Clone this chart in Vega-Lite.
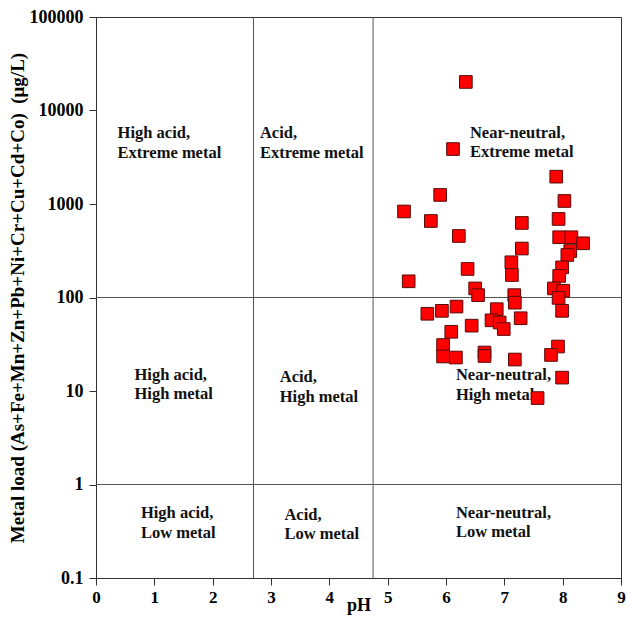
{
  "$schema": "https://vega.github.io/schema/vega-lite/v6.json",
  "width": 525,
  "height": 561,
  "autosize": {"type": "none"},
  "padding": {"left": 96, "top": 17, "right": 6, "bottom": 41},
  "background": "white",
  "config": {
    "font": "Liberation Serif",
    "view": {"stroke": "#333", "strokeWidth": 1},
    "axis": {"grid": false, "labelFlush": false, "domainColor": "#333", "tickColor": "#333", "labelFont": "Liberation Serif", "titleFont": "Liberation Serif", "labelFontWeight": "bold", "titleFontWeight": "bold", "labelColor": "#000", "titleColor": "#000"}
  },
  "datasets": {
    "points": [
      {"pH": 6.34, "load": 20200}, {"pH": 6.12, "load": 3870}, {"pH": 5.90, "load": 1250},
      {"pH": 5.28, "load": 832}, {"pH": 5.74, "load": 658}, {"pH": 6.22, "load": 455},
      {"pH": 6.37, "load": 202}, {"pH": 5.36, "load": 149}, {"pH": 6.50, "load": 125},
      {"pH": 6.55, "load": 106}, {"pH": 7.89, "load": 1960}, {"pH": 8.03, "load": 1077},
      {"pH": 7.30, "load": 627}, {"pH": 7.93, "load": 692}, {"pH": 7.30, "load": 334},
      {"pH": 7.94, "load": 441}, {"pH": 8.15, "load": 441}, {"pH": 8.35, "load": 380},
      {"pH": 7.12, "load": 238}, {"pH": 8.13, "load": 314}, {"pH": 8.08, "load": 285},
      {"pH": 7.13, "load": 174}, {"pH": 7.99, "load": 210}, {"pH": 7.94, "load": 170},
      {"pH": 7.85, "load": 125}, {"pH": 8.01, "load": 118}, {"pH": 7.17, "load": 106},
      {"pH": 7.18, "load": 88}, {"pH": 7.93, "load": 99}, {"pH": 7.99, "load": 72},
      {"pH": 5.68, "load": 67}, {"pH": 5.93, "load": 72}, {"pH": 6.18, "load": 80},
      {"pH": 6.87, "load": 75}, {"pH": 7.28, "load": 60}, {"pH": 6.78, "load": 57},
      {"pH": 6.92, "load": 54}, {"pH": 6.99, "load": 46}, {"pH": 6.44, "load": 50},
      {"pH": 6.09, "load": 43}, {"pH": 5.95, "load": 31}, {"pH": 5.95, "load": 23.4},
      {"pH": 6.17, "load": 22.8}, {"pH": 6.66, "load": 25.8}, {"pH": 6.66, "load": 23.7},
      {"pH": 7.18, "load": 21.7}, {"pH": 7.92, "load": 29.9}, {"pH": 7.80, "load": 24.3},
      {"pH": 7.99, "load": 13.9}, {"pH": 7.57, "load": 8.4}
    ],
    "labels": [
      {"x": 0.37, "y": 5740, "t": "High acid,"}, {"x": 0.37, "y": 3470, "t": "Extreme metal"},
      {"x": 2.81, "y": 5740, "t": "Acid,"}, {"x": 2.81, "y": 3470, "t": "Extreme metal"},
      {"x": 6.41, "y": 5800, "t": "Near-neutral,"}, {"x": 6.41, "y": 3620, "t": "Extreme metal"},
      {"x": 0.66, "y": 14.8, "t": "High acid,"}, {"x": 0.66, "y": 9.29, "t": "High metal"},
      {"x": 3.15, "y": 14.1, "t": "Acid,"}, {"x": 3.15, "y": 8.69, "t": "High metal"},
      {"x": 6.17, "y": 14.8, "t": "Near-neutral,"}, {"x": 6.17, "y": 9.06, "t": "High metal"},
      {"x": 0.77, "y": 0.495, "t": "High acid,"}, {"x": 0.77, "y": 0.303, "t": "Low metal"},
      {"x": 3.23, "y": 0.472, "t": "Acid,"}, {"x": 3.23, "y": 0.296, "t": "Low metal"},
      {"x": 6.17, "y": 0.495, "t": "Near-neutral,"}, {"x": 6.17, "y": 0.307, "t": "Low metal"}
    ],
    "vlines": [{"x": 2.7}, {"x": 4.75}],
    "hlines": [{"y": 100}, {"y": 1}]
  },
  "layer": [
    {
      "data": {"name": "vlines"},
      "mark": {"type": "rule", "color": "#555", "strokeWidth": 1},
      "encoding": {"x": {"field": "x", "type": "quantitative"}}
    },
    {
      "data": {"name": "hlines"},
      "mark": {"type": "rule", "color": "#555", "strokeWidth": 1},
      "encoding": {"y": {"field": "y", "type": "quantitative"}}
    },
    {
      "data": {"name": "labels"},
      "mark": {"type": "text", "align": "left", "baseline": "middle", "fontSize": 16.5, "fontWeight": "bold", "font": "Liberation Serif", "color": "#111"},
      "encoding": {
        "x": {"field": "x", "type": "quantitative"},
        "y": {"field": "y", "type": "quantitative"},
        "text": {"field": "t"}
      }
    },
    {
      "data": {"name": "points"},
      "mark": {"type": "point", "shape": "square", "filled": true, "size": 160, "color": "#ff0000", "stroke": "#5a0a0a", "strokeWidth": 1, "opacity": 1},
      "encoding": {
        "x": {
          "field": "pH", "type": "quantitative",
          "scale": {"domain": [0, 9], "nice": false},
          "axis": {"title": "pH", "values": [0,1,2,3,4,5,6,7,8,9], "format": "d", "tickSize": 7, "labelFontSize": 17, "labelPadding": 4, "titleFontSize": 18, "titlePadding": -9}
        },
        "y": {
          "field": "load", "type": "quantitative",
          "scale": {"type": "log", "domain": [0.1, 100000], "nice": false},
          "axis": {"title": "Metal load (As+Fe+Mn+Zn+Pb+Ni+Cr+Cu+Cd+Co)\u00a0\u00a0(μg/L)", "values": [0.1, 1, 10, 100, 1000, 10000, 100000], "labelExpr": "datum.value < 1 ? '0.1' : format(datum.value, 'd')", "tickSize": 7, "labelFontSize": 18, "labelPadding": 6, "titleFontSize": 19, "titlePadding": 2}
        }
      }
    }
  ]
}
